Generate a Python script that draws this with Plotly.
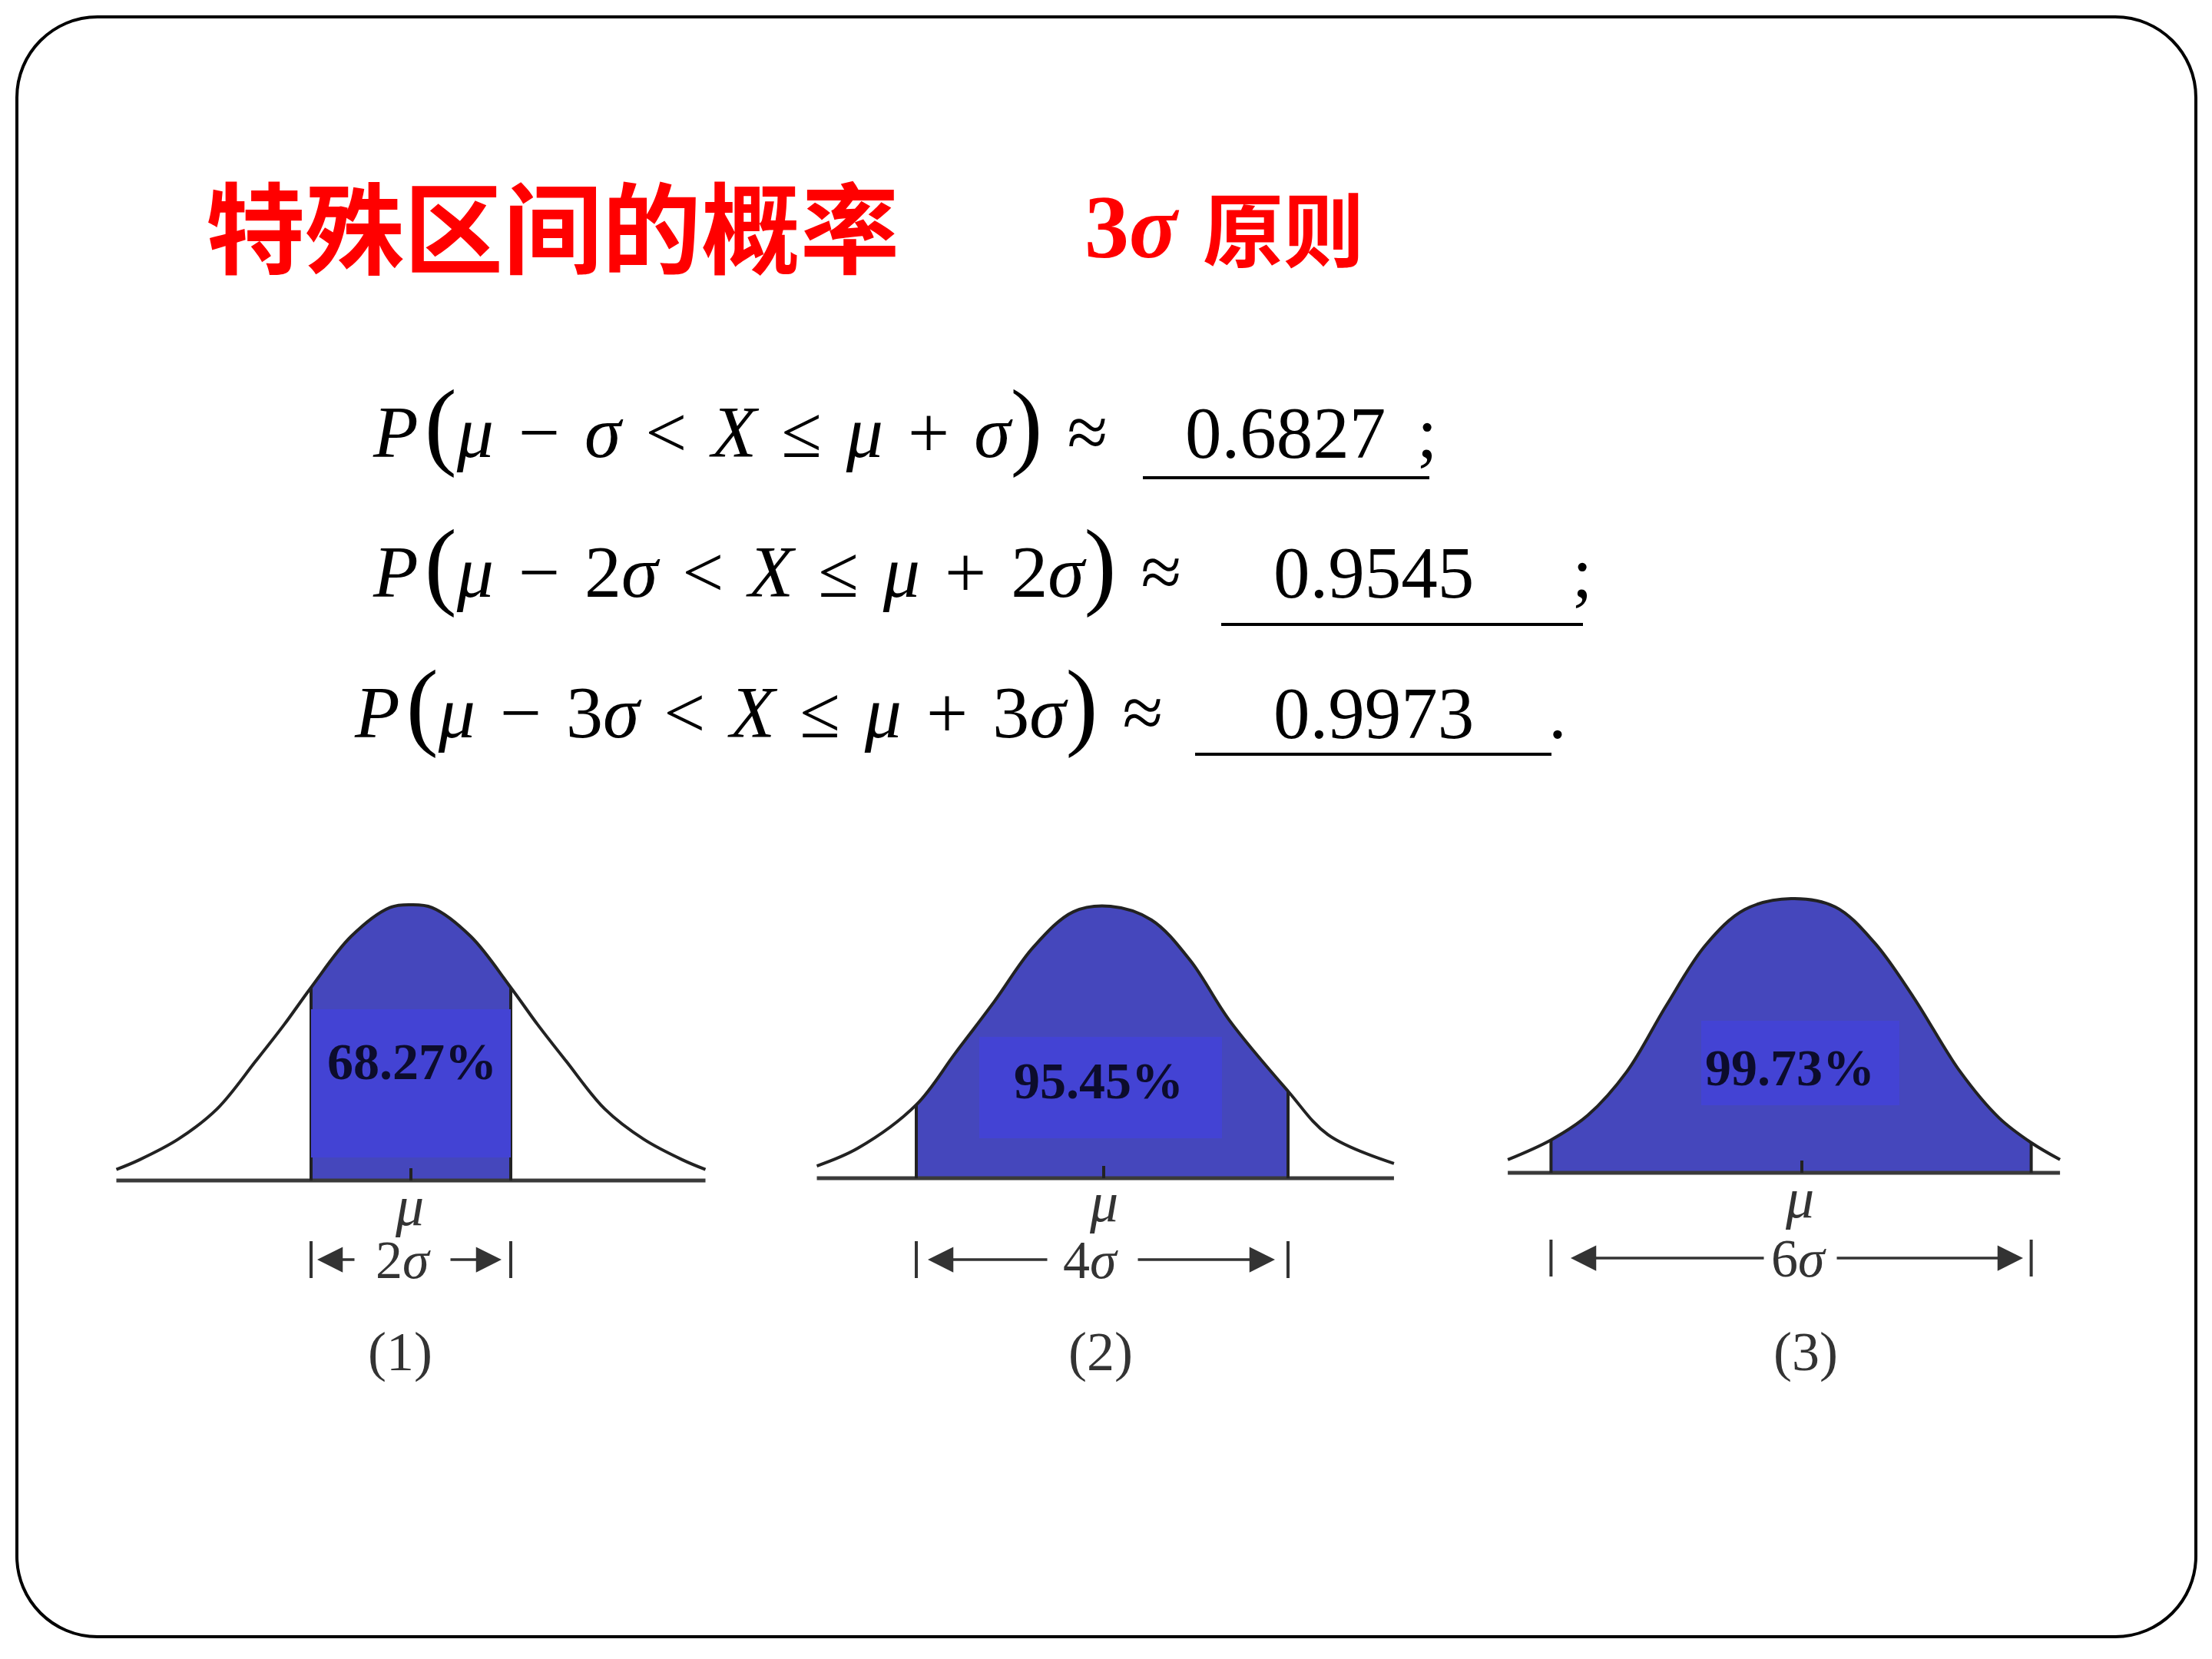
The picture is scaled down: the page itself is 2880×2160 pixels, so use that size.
import plotly.graph_objects as go
import numpy as np

W, H = 2880, 2160

# ---------------- data ----------------
TITLE = "特殊区间的概率"
SUB_NUM = "3"
SUB_CN = "原则"
K_VALUES = [1, 2, 3]
PROBS = [0.6827, 0.9545, 0.9973]
PANEL_LABELS = ["(1)", "(2)", "(3)"]

# curve outlines: x in sigma units, height relative to peak
X1 = [-2.95, -2.72, -2.33, -1.94, -1.55, -1.27, -1.0, -0.6, -0.21, 0.0, 0.21, 0.6, 1.0, 1.27, 1.55, 1.94, 2.33, 2.72, 2.95]
H1 = [0.04, 0.075, 0.15, 0.26, 0.435, 0.565, 0.70, 0.885, 0.99, 1.0, 0.99, 0.885, 0.70, 0.565, 0.435, 0.26, 0.15, 0.075, 0.04]
X2 = [-3.07, -2.63, -2.0, -1.58, -1.16, -0.74, -0.31, 0.09, 0.53, 0.95, 1.37, 2.0, 2.43, 3.14]
H2 = [0.045, 0.11, 0.27, 0.46, 0.65, 0.85, 0.98, 1.0, 0.95, 0.80, 0.58, 0.32, 0.16, 0.054]
X3 = [-3.54, -3.0, -2.54, -2.05, -1.56, -1.07, -0.58, 0.0, 0.55, 1.04, 1.53, 2.11, 2.6, 3.0, 3.36]
H3 = [0.048, 0.12, 0.21, 0.37, 0.61, 0.83, 0.96, 1.0, 0.97, 0.84, 0.64, 0.37, 0.20, 0.11, 0.048]
CURVES = [(X1, H1), (X2, H2), (X3, H3)]

# ---------------- layout geometry (pixels) ----------------
PANELS = [
    dict(cx=535, s=130.0, by=1537, ph=359, tick=535, mu=(533, 1570), dim_y=1640,
         arr=(413, 463, 525, 585, 653), lab=(521, 1760), rect=(405, 1314, 665, 1507), pct=(536, 1382)),
    dict(cx=1435, s=121.0, by=1534, ph=354, tick=1437, mu=(1437, 1565), dim_y=1640,
         arr=(1208, 1365, 1420, 1480, 1660), lab=(1433, 1760), rect=(1275, 1350, 1591, 1482), pct=(1430, 1407)),
    dict(cx=2332, s=104.2, by=1527, ph=357, tick=2346, mu=(2343, 1560), dim_y=1638,
         arr=(2045, 2298, 2342, 2390, 2634), lab=(2351, 1760), rect=(2215, 1329, 2473, 1439), pct=(2330, 1390)),
]

FILL = "#4547BC"
RECT = "#4343D4"
LINE = "#222222"
GREY = "#333333"
SERIF = "Liberation Serif, Times New Roman, serif"
CJK = "Noto Sans CJK SC, sans-serif"


def px(x):
    return x / W


def py(y):
    return 1 - y / H


def to_ax(p, x, y):
    return (x - p["cx"]) / p["s"], (p["by"] - y) / p["ph"]


fig = go.Figure()
shapes = []
annos = []

for i, (p, k, prob, (xs, hs)) in enumerate(zip(PANELS, K_VALUES, PROBS, CURVES)):
    n = "" if i == 0 else str(i + 1)
    xa, ya = "x" + n, "y" + n
    xs = np.array(xs)
    hs = np.array(hs)
    m = np.abs(xs) <= k + 1e-9
    # shaded region
    fig.add_trace(go.Scatter(x=xs[m], y=hs[m], mode="lines", line=dict(width=0, shape="spline"),
                             fill="tozeroy", fillcolor=FILL, xaxis=xa, yaxis=ya, hoverinfo="skip"))
    # baseline
    fig.add_trace(go.Scatter(x=[xs[0], xs[-1]], y=[0, 0], mode="lines", line=dict(color="#3a3a3a", width=5),
                             xaxis=xa, yaxis=ya, hoverinfo="skip"))
    # outline
    fig.add_trace(go.Scatter(x=xs, y=hs, mode="lines", line=dict(color=LINE, width=4, shape="spline"),
                             xaxis=xa, yaxis=ya, hoverinfo="skip"))
    # edges of the shaded region
    hl = hs[m][0]
    hr = hs[m][-1]
    fig.add_trace(go.Scatter(x=[xs[m][0], xs[m][0], None, xs[m][-1], xs[m][-1]], y=[0, hl, None, 0, hr],
                             mode="lines", line=dict(color=LINE, width=4), xaxis=xa, yaxis=ya, hoverinfo="skip"))

    # axes covering the whole page
    fig.update_layout(**{
        "xaxis" + n: dict(domain=[0, 1], range=[(0 - p["cx"]) / p["s"], (W - p["cx"]) / p["s"]],
                          visible=False, fixedrange=True, anchor=ya),
        "yaxis" + n: dict(domain=[0, 1], range=[(p["by"] - H) / p["ph"], p["by"] / p["ph"]],
                          visible=False, fixedrange=True, anchor=xa),
    })

    # bright label rectangle
    rx0, ry0 = to_ax(p, p["rect"][0], p["rect"][3])
    rx1, ry1 = to_ax(p, p["rect"][2], p["rect"][1])
    shapes.append(dict(type="rect", xref=xa, yref=ya, x0=rx0, y0=ry0, x1=rx1, y1=ry1,
                       fillcolor=RECT, line=dict(width=0), layer="above"))
    # percentage label
    tx, ty = to_ax(p, *p["pct"])
    annos.append(dict(xref=xa, yref=ya, x=tx, y=ty, text=f"<b>{prob * 100:.2f}%</b>", showarrow=False,
                      font=dict(family=SERIF, size=68, color="#0c0c2c"), xanchor="center", yanchor="middle"))
    # mu tick
    tk, _ = to_ax(p, p["tick"], p["by"])
    shapes.append(dict(type="line", xref=xa, yref=ya, x0=tk, x1=tk, y0=0, y1=16 / p["ph"],
                       line=dict(color=LINE, width=4), layer="above"))
    # mu label
    mx, my = to_ax(p, *p["mu"])
    annos.append(dict(xref=xa, yref=ya, x=mx, y=my, text="<i>μ</i>", showarrow=False,
                      font=dict(family=SERIF, size=74, color=GREY), xanchor="center", yanchor="middle"))
    # dimension line
    _, dy = to_ax(p, 0, p["dim_y"])
    _, b0 = to_ax(p, 0, p["dim_y"] - 24)
    _, b1 = to_ax(p, 0, p["dim_y"] + 24)
    for sx in (-k, k):
        shapes.append(dict(type="line", xref=xa, yref=ya, x0=sx, x1=sx, y0=b0, y1=b1,
                           line=dict(color=GREY, width=4)))
    a_tipL, a_tailL, a_txt, a_tailR, a_tipR = [(v - p["cx"]) / p["s"] for v in p["arr"]]
    for tip, tail in ((a_tipL, a_tailL), (a_tipR, a_tailR)):
        annos.append(dict(xref=xa, yref=ya, axref=xa, ayref=ya, x=tip, y=dy, ax=tail, ay=dy, text="",
                          showarrow=True, arrowhead=2, arrowsize=1.9, arrowwidth=3.5, arrowcolor=GREY,
                          standoff=0, startstandoff=0))
    annos.append(dict(xref=xa, yref=ya, x=a_txt, y=dy, text=f"{2 * k}<i>σ</i>", showarrow=False,
                      font=dict(family=SERIF, size=70, color=GREY), xanchor="center", yanchor="middle"))
    lx, ly = to_ax(p, *p["lab"])
    annos.append(dict(xref=xa, yref=ya, x=lx, y=ly, text=PANEL_LABELS[i], showarrow=False,
                      font=dict(family=SERIF, size=72, color=GREY), xanchor="center", yanchor="middle"))

# ---------------- title ----------------
annos.append(dict(xref="paper", yref="paper", x=px(266), y=py(291), text=f"<b>{TITLE}</b>", showarrow=False,
                  font=dict(family=CJK, size=129, color="#FF0000"), xanchor="left", yanchor="middle"))
annos.append(dict(xref="paper", yref="paper", x=px(1410), y=py(296), text=f"<b>{SUB_NUM}<i>σ</i></b>",
                  showarrow=False, font=dict(family=SERIF, size=116, color="#FF0000"),
                  xanchor="left", yanchor="middle"))
annos.append(dict(xref="paper", yref="paper", x=px(1564), y=py(293), text=f"<b>{SUB_CN}</b>", showarrow=False,
                  font=dict(family=CJK, size=105, color="#FF0000"), xanchor="left", yanchor="middle"))

# ---------------- equations ----------------
SP = "\u2004"   # three-per-em space around operators
HS = "\u200a"   # hair space
LP = f"{HS}<span style='font-size:126px'>(</span>"
RP = "<span style='font-size:126px'>)</span>"
EQ_LEFT = [483, 483, 459]
EQ_BASE = [596, 778, 961]
NUM_LEFT = [1541, 1656, 1656]
PUNCT = [";", ";", "."]
PUNCT_LEFT = [1843, 2045, 2014]
UNDER = [(1488, 1861, 622), (1590, 2061, 813), (1556, 2020, 982)]

for k, prob, xl, base, nl, pu, pl, (u0, u1, uy) in zip(K_VALUES, PROBS, EQ_LEFT, EQ_BASE, NUM_LEFT,
                                                          PUNCT, PUNCT_LEFT, UNDER):
    ks = "" if k == 1 else str(k)
    eq = (f"<i>P</i>{LP}<i>μ</i>{SP}−{SP}{ks}<i>σ</i>{SP}&lt;{SP}<i>X</i>{SP}≤{SP}"
          f"<i>μ</i>{SP}+{SP}{ks}<i>σ</i>{RP}{SP}≈")
    annos.append(dict(xref="paper", yref="paper", x=px(xl), y=py(base - 43), text=eq, showarrow=False,
                      font=dict(family=SERIF, size=96, color="black"), xanchor="left", yanchor="middle"))
    annos.append(dict(xref="paper", yref="paper", x=px(nl), y=py(base - 32), text=f"{prob:.4f}",
                      showarrow=False, font=dict(family=SERIF, size=95, color="black"),
                      xanchor="left", yanchor="middle"))
    annos.append(dict(xref="paper", yref="paper", x=px(pl), y=py(base - 32), text=pu,
                      showarrow=False, font=dict(family=SERIF, size=95, color="black"),
                      xanchor="left", yanchor="middle"))
    shapes.append(dict(type="line", xref="paper", yref="paper", x0=px(u0), x1=px(u1), y0=py(uy), y1=py(uy),
                       line=dict(color="black", width=4)))

# ---------------- rounded slide border ----------------
L, T, R, B, r = 22, 22, 2859, 2131, 105
c = 0.5523 * r
pts = [
    ("M", [(L + r, T)]),
    ("L", [(R - r, T)]),
    ("C", [(R - r + c, T), (R, T + r - c), (R, T + r)]),
    ("L", [(R, B - r)]),
    ("C", [(R, B - r + c), (R - r + c, B), (R - r, B)]),
    ("L", [(L + r, B)]),
    ("C", [(L + r - c, B), (L, B - r + c), (L, B - r)]),
    ("L", [(L, T + r)]),
    ("C", [(L, T + r - c), (L + r - c, T), (L + r, T)]),
]
path = ""
for cmd, plist in pts:
    path += cmd + " ".join(f"{px(a):.6f},{py(b):.6f}" for a, b in plist) + " "
path += "Z"
shapes.append(dict(type="path", xref="paper", yref="paper", path=path, line=dict(color="black", width=4),
                   fillcolor="rgba(0,0,0,0)", layer="below"))

fig.update_layout(width=W, height=H, margin=dict(l=0, r=0, t=0, b=0), paper_bgcolor="white",
                  plot_bgcolor="rgba(0,0,0,0)", showlegend=False, shapes=shapes, annotations=annos)

fig.write_html("out.html", config={"displayModeBar": False, "staticPlot": True})
